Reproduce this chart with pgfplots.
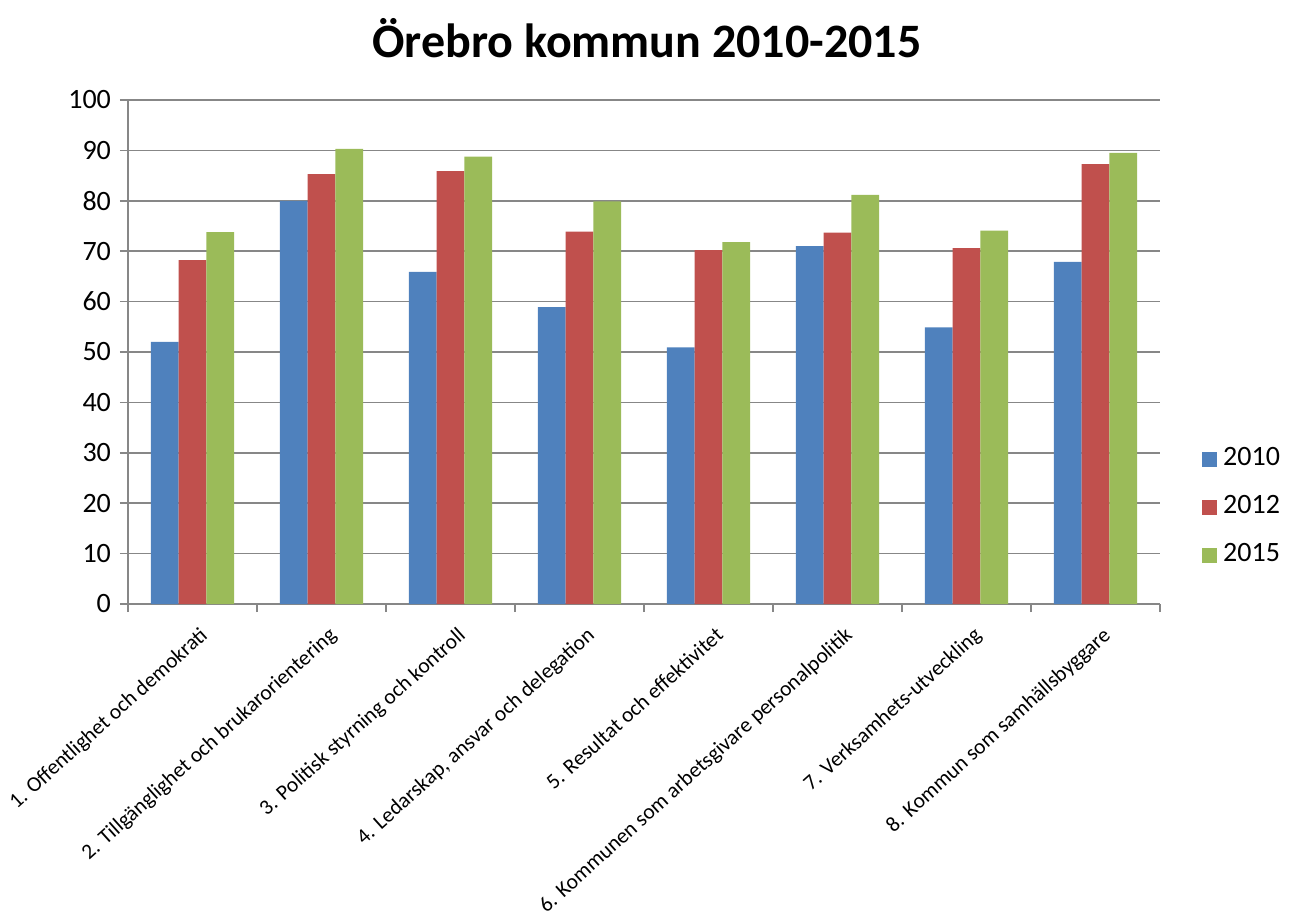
\documentclass[border=0pt]{standalone}
\usepackage{fontspec}
\setmainfont{Carlito}
\usepackage{pgfplots}
\pgfplotsset{compat=1.18}
\definecolor{cA}{HTML}{4F81BD}
\definecolor{cB}{HTML}{C0504D}
\definecolor{cC}{HTML}{9BBB59}
\definecolor{gridc}{HTML}{878787}
\begin{document}
\begin{tikzpicture}
\path[use as bounding box] (-64pt,-159.5pt) rectangle (581.5pt,302pt);
\begin{axis}[
  scale only axis, width=516pt, height=252pt,
  xmin=-0.5, xmax=7.5, ymin=0, ymax=100,
  ytick={0,10,...,100},
  xtick={-0.5,0.5,...,7.5}, xticklabels={},
  axis x line*=bottom, axis y line*=left,
  axis line style={gridc, line width=0.8pt, -},
  tick style={gridc, line width=0.8pt},
  tick align=outside, major tick length=4pt,
  ymajorgrids, major grid style={gridc, line width=0.8pt},
  /pgf/number format/assume math mode=true,
  yticklabel style={font=\fontsize{14}{16}\selectfont, xshift=-1pt},
  ybar=0pt, bar width=13.85pt,
  legend style={draw=none, fill=none, at={(1.0349,0.192)}, anchor=west,
    font=\fontsize{14}{16}\selectfont, row sep=10.5pt,
    nodes={inner sep=0pt, text height=10pt, text depth=3.5pt, anchor=west}},
  legend image code/.code={\fill[#1] (0pt,-3.7pt) rectangle (7.4pt,3.7pt); \path (10.4pt,0pt);},
  legend cell align=left,
]
\addplot[fill=cA, draw=none] coordinates {(0,52) (1,80) (2,65.9) (3,58.9) (4,50.9) (5,71) (6,54.9) (7,67.9)};
\addplot[fill=cB, draw=none] coordinates {(0,68.25) (1,85.3) (2,85.9) (3,73.9) (4,70.2) (5,73.7) (6,70.6) (7,87.3)};
\addplot[fill=cC, draw=none] coordinates {(0,73.8) (1,90.3) (2,88.75) (3,79.9) (4,71.8) (5,81.2) (6,74.1) (7,89.5)};
\legend{2010,2012,2015}
\end{axis}
\node[anchor=base, font=\fontsize{24}{28}\selectfont\bfseries] at (259.5pt,273.5pt) {Örebro kommun 2010-2015};
\begin{scope}[every node/.style={rotate=42, anchor=north east, inner sep=0pt, font=\fontsize{10.75}{13}\selectfont}]
\node at (35.25pt,-10.75pt) {1. Offentlighet och demokrati};
\node at (99.75pt,-10.75pt) {2. Tillgänglighet och brukarorientering};
\node at (164.25pt,-10.75pt) {3. Politisk styrning och kontroll};
\node at (228.75pt,-10.75pt) {4. Ledarskap, ansvar och delegation};
\node at (293.25pt,-10.75pt) {5. Resultat och effektivitet};
\node at (357.75pt,-10.75pt) {6. Kommunen som arbetsgivare personalpolitik};
\node at (422.25pt,-10.75pt) {7. Verksamhets-utveckling};
\node at (486.75pt,-10.75pt) {8. Kommun som samhällsbyggare};
\end{scope}
\end{tikzpicture}
\end{document}
